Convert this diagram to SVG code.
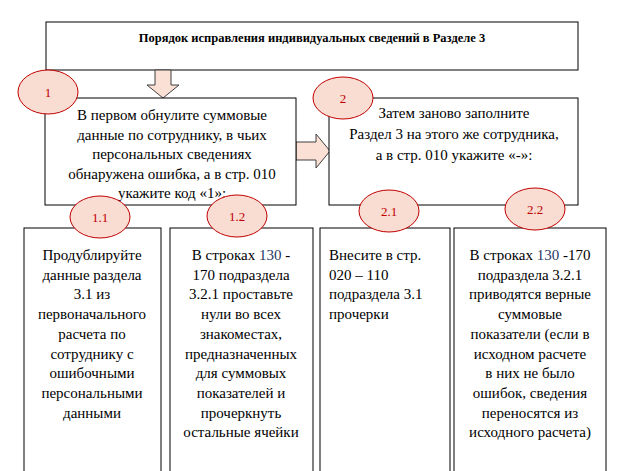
<svg xmlns="http://www.w3.org/2000/svg" width="620" height="471" viewBox="0 0 620 471">
<style>
.b{fill:#fff;stroke:#000;stroke-width:1}
.e{fill:#f9dcd2;stroke:#c00000;stroke-width:1}
.a{fill:#fbe1d5;stroke:#3f3f3f;stroke-width:1}
text{font-family:'Liberation Serif','Times New Roman','DejaVu Serif',serif;fill:#000;text-anchor:middle}
.t{font-size:15px}
.n{font-size:13px;fill:#c00000}
</style>
<rect width="620" height="471" fill="#fff"/>
<g id="title"><rect class="b" x="46" y="22" width="532" height="48"/><text x="312" y="42" style="font-size:12.5px;font-weight:bold">Порядок исправления индивидуальных сведений в Разделе 3</text></g>
<g id="connectors">
<polygon class="a" points="155,70 171,70 171,85 179,85 163,98 147,85 155,85"/>
<polygon class="a" points="296,142 316,142 316,134 330,151 316,168 316,160 296,160"/>
</g>
<g id="step1"><rect class="b" x="45" y="98" width="251" height="107"/>
<text class="t"><tspan x="172" y="120">В первом обнулите суммовые</tspan><tspan x="172" y="139.5">данные по сотруднику, в чьих</tspan><tspan x="172" y="159">персональных сведениях</tspan><tspan x="172" y="178.5">обнаружена ошибка, а в стр. 010</tspan><tspan x="172" y="198">укажите код «1»:</tspan></text>
<ellipse class="e" cx="48" cy="92" rx="30" ry="22"/><text class="n" x="48" y="97">1</text></g>
<g id="step2"><rect class="b" x="329" y="98" width="249" height="107"/>
<text class="t"><tspan x="454" y="118">Затем заново заполните</tspan><tspan x="454" y="139">Раздел 3 на этого же сотрудника,</tspan><tspan x="454" y="160">а в стр. 010 укажите «-»:</tspan></text>
<ellipse class="e" cx="343" cy="98" rx="30" ry="21"/><text class="n" x="343" y="103">2</text></g>
<g id="step11"><rect class="b" x="24" y="228" width="137" height="250"/>
<text class="t"><tspan x="92" y="260">Продублируйте</tspan><tspan x="92" y="279.7">данные раздела</tspan><tspan x="92" y="299.4">3.1 из</tspan><tspan x="92" y="319.1">первоначального</tspan><tspan x="92" y="338.8">расчета по</tspan><tspan x="92" y="358.5">сотруднику с</tspan><tspan x="92" y="378.2">ошибочными</tspan><tspan x="92" y="397.9">персональными</tspan><tspan x="92" y="417.6">данными</tspan></text>
<ellipse class="e" cx="100" cy="217" rx="30" ry="21"/><text class="n" x="100" y="222">1.1</text></g>
<g id="step12"><rect class="b" x="170" y="228" width="143" height="250"/>
<text class="t"><tspan x="241" y="260">В строках <tspan fill="#1f3864">130</tspan> -</tspan><tspan x="241" y="279.7">170 подраздела</tspan><tspan x="241" y="299.4">3.2.1 проставьте</tspan><tspan x="241" y="319.1">нули во всех</tspan><tspan x="241" y="338.8">знакоместах,</tspan><tspan x="241" y="358.5">предназначенных</tspan><tspan x="241" y="378.2">для суммовых</tspan><tspan x="241" y="397.9">показателей и</tspan><tspan x="241" y="417.6">прочеркнуть</tspan><tspan x="241" y="437.3">остальные ячейки</tspan></text>
<ellipse class="e" cx="237" cy="216" rx="30" ry="21"/><text class="n" x="237" y="221">1.2</text></g>
<g id="step21"><rect class="b" x="320" y="228" width="130" height="250"/>
<text class="t" style="text-anchor:start"><tspan x="329" y="260">Внесите в стр.</tspan><tspan x="329" y="279.7">020 – 110</tspan><tspan x="329" y="299.4">подраздела 3.1</tspan><tspan x="329" y="319.1">прочерки</tspan></text>
<ellipse class="e" cx="389" cy="211" rx="30" ry="21"/><text class="n" x="389" y="216">2.1</text></g>
<g id="step22"><rect class="b" x="454" y="228" width="152" height="250"/>
<text class="t"><tspan x="530" y="260">В строках <tspan fill="#1f3864">130</tspan> -170</tspan><tspan x="530" y="279.7">подраздела 3.2.1</tspan><tspan x="530" y="299.4">приводятся верные</tspan><tspan x="530" y="319.1">суммовые</tspan><tspan x="530" y="338.8">показатели (если в</tspan><tspan x="530" y="358.5">исходном расчете</tspan><tspan x="530" y="378.2">в них не было</tspan><tspan x="530" y="397.9">ошибок, сведения</tspan><tspan x="530" y="417.6">переносятся из</tspan><tspan x="530" y="437.3">исходного расчета)</tspan></text>
<ellipse class="e" cx="535" cy="209" rx="30" ry="21"/><text class="n" x="535" y="214">2.2</text></g>
</svg>
